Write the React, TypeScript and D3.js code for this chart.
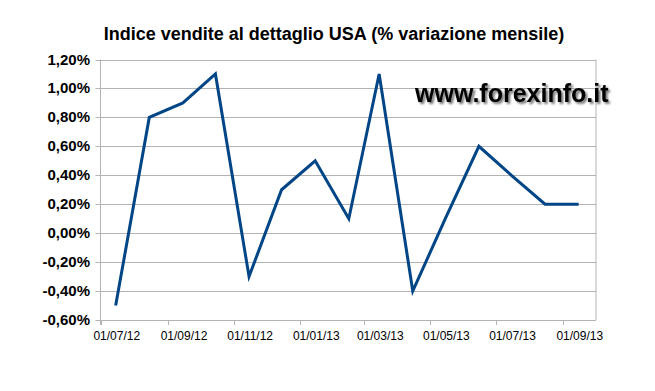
import React from "react";
import * as d3 from "d3";

const months = [
  "2012-07-15", "2012-08-15", "2012-09-15", "2012-10-15", "2012-11-15",
  "2012-12-15", "2013-01-15", "2013-02-15", "2013-03-15", "2013-04-15",
  "2013-05-15", "2013-06-15", "2013-07-15", "2013-08-15", "2013-09-15",
];
const values = [-0.5, 0.8, 0.9, 1.1, -0.3, 0.3, 0.5, 0.1, 1.1, -0.4, 0.1, 0.6, 0.4, 0.2, 0.2];
const yTicks = [-0.6, -0.4, -0.2, 0, 0.2, 0.4, 0.6, 0.8, 1.0, 1.2];
const xTickDates = ["2012-07-01", "2012-09-01", "2012-11-01", "2013-01-01", "2013-03-01", "2013-05-01", "2013-07-01", "2013-09-01"];
const title = "Indice vendite al dettaglio USA (% variazione mensile)";
const watermark = "www.forexinfo.it";

const W = 655, H = 391;
const left = 100.5, right = 596, top = 59.5, bottom = 320;

export default function App() {
  const parse = d3.utcParse("%Y-%m-%d");
  const x = d3.scaleUtc().domain([parse("2012-07-01")!, parse("2013-10-01")!]).range([left, right]);
  const y = d3.scaleLinear().domain([-0.6, 1.2]).range([bottom, top]);
  const data = months.map((m, i) => ({ d: parse(m)!, v: values[i] }));
  const line = d3.line<{ d: Date; v: number }>().x(p => x(p.d)).y(p => y(p.v));
  const fmtY = (v: number) => v.toFixed(2).replace(".", ",") + "%";
  const fmtX = d3.utcFormat("%d/%m/%y");
  const font = "'Liberation Sans', Arial, sans-serif";

  return (
    <svg width={W} height={H} style={{ position: "absolute", left: 0, top: 0, background: "#fff" }} fontFamily={font}>
      <defs>
        <filter id="sh" x="-10%" y="-30%" width="130%" height="180%">
          <feGaussianBlur in="SourceAlpha" stdDeviation="1.2" result="b" />
          <feOffset in="b" dx="2" dy="2" result="o" />
          <feComponentTransfer in="o" result="o2"><feFuncA type="linear" slope="0.55" /></feComponentTransfer>
          <feMerge><feMergeNode in="o2" /><feMergeNode in="SourceGraphic" /></feMerge>
        </filter>
      </defs>
      <rect width={W} height={H} fill="#fff" />
      <text x={334} y={40} textAnchor="middle" fontSize={18} fontWeight="bold" fill="#000">{title}</text>
      {yTicks.map(t => (
        <g key={t}>
          <line x1={left} x2={right} y1={Math.round(y(t)) + 0.5} y2={Math.round(y(t)) + 0.5} stroke="#b3b3b3" strokeWidth={1} />
          <line x1={left - 5} x2={left} y1={Math.round(y(t)) + 0.5} y2={Math.round(y(t)) + 0.5} stroke="#b3b3b3" strokeWidth={1} />
          <text x={90} y={y(t) + 5} textAnchor="end" fontSize={15} fontWeight="bold" fill="#000">{fmtY(t)}</text>
        </g>
      ))}
      <line x1={left} x2={left} y1={top} y2={bottom + 5} stroke="#b3b3b3" />
      <line x1={right} x2={right} y1={top} y2={bottom} stroke="#b3b3b3" />
      {xTickDates.map(s => {
        const d = parse(s)!;
        const xx = Math.round(x(d)) + 0.5;
        const lx = x(d3.utcDay.offset(d, 15));
        return (
          <g key={s}>
            <line x1={xx} x2={xx} y1={bottom} y2={bottom + 5} stroke="#b3b3b3" />
            <text x={lx} y={340} textAnchor="middle" fontSize={12} fill="#000">{fmtX(d)}</text>
          </g>
        );
      })}
      <path d={line(data)!} fill="none" stroke="#004586" strokeWidth={3} strokeLinejoin="miter" />
      <text x={415} y={102} fontSize={25} fontWeight="bold" fill="#000" filter="url(#sh)">{watermark}</text>
    </svg>
  );
}
